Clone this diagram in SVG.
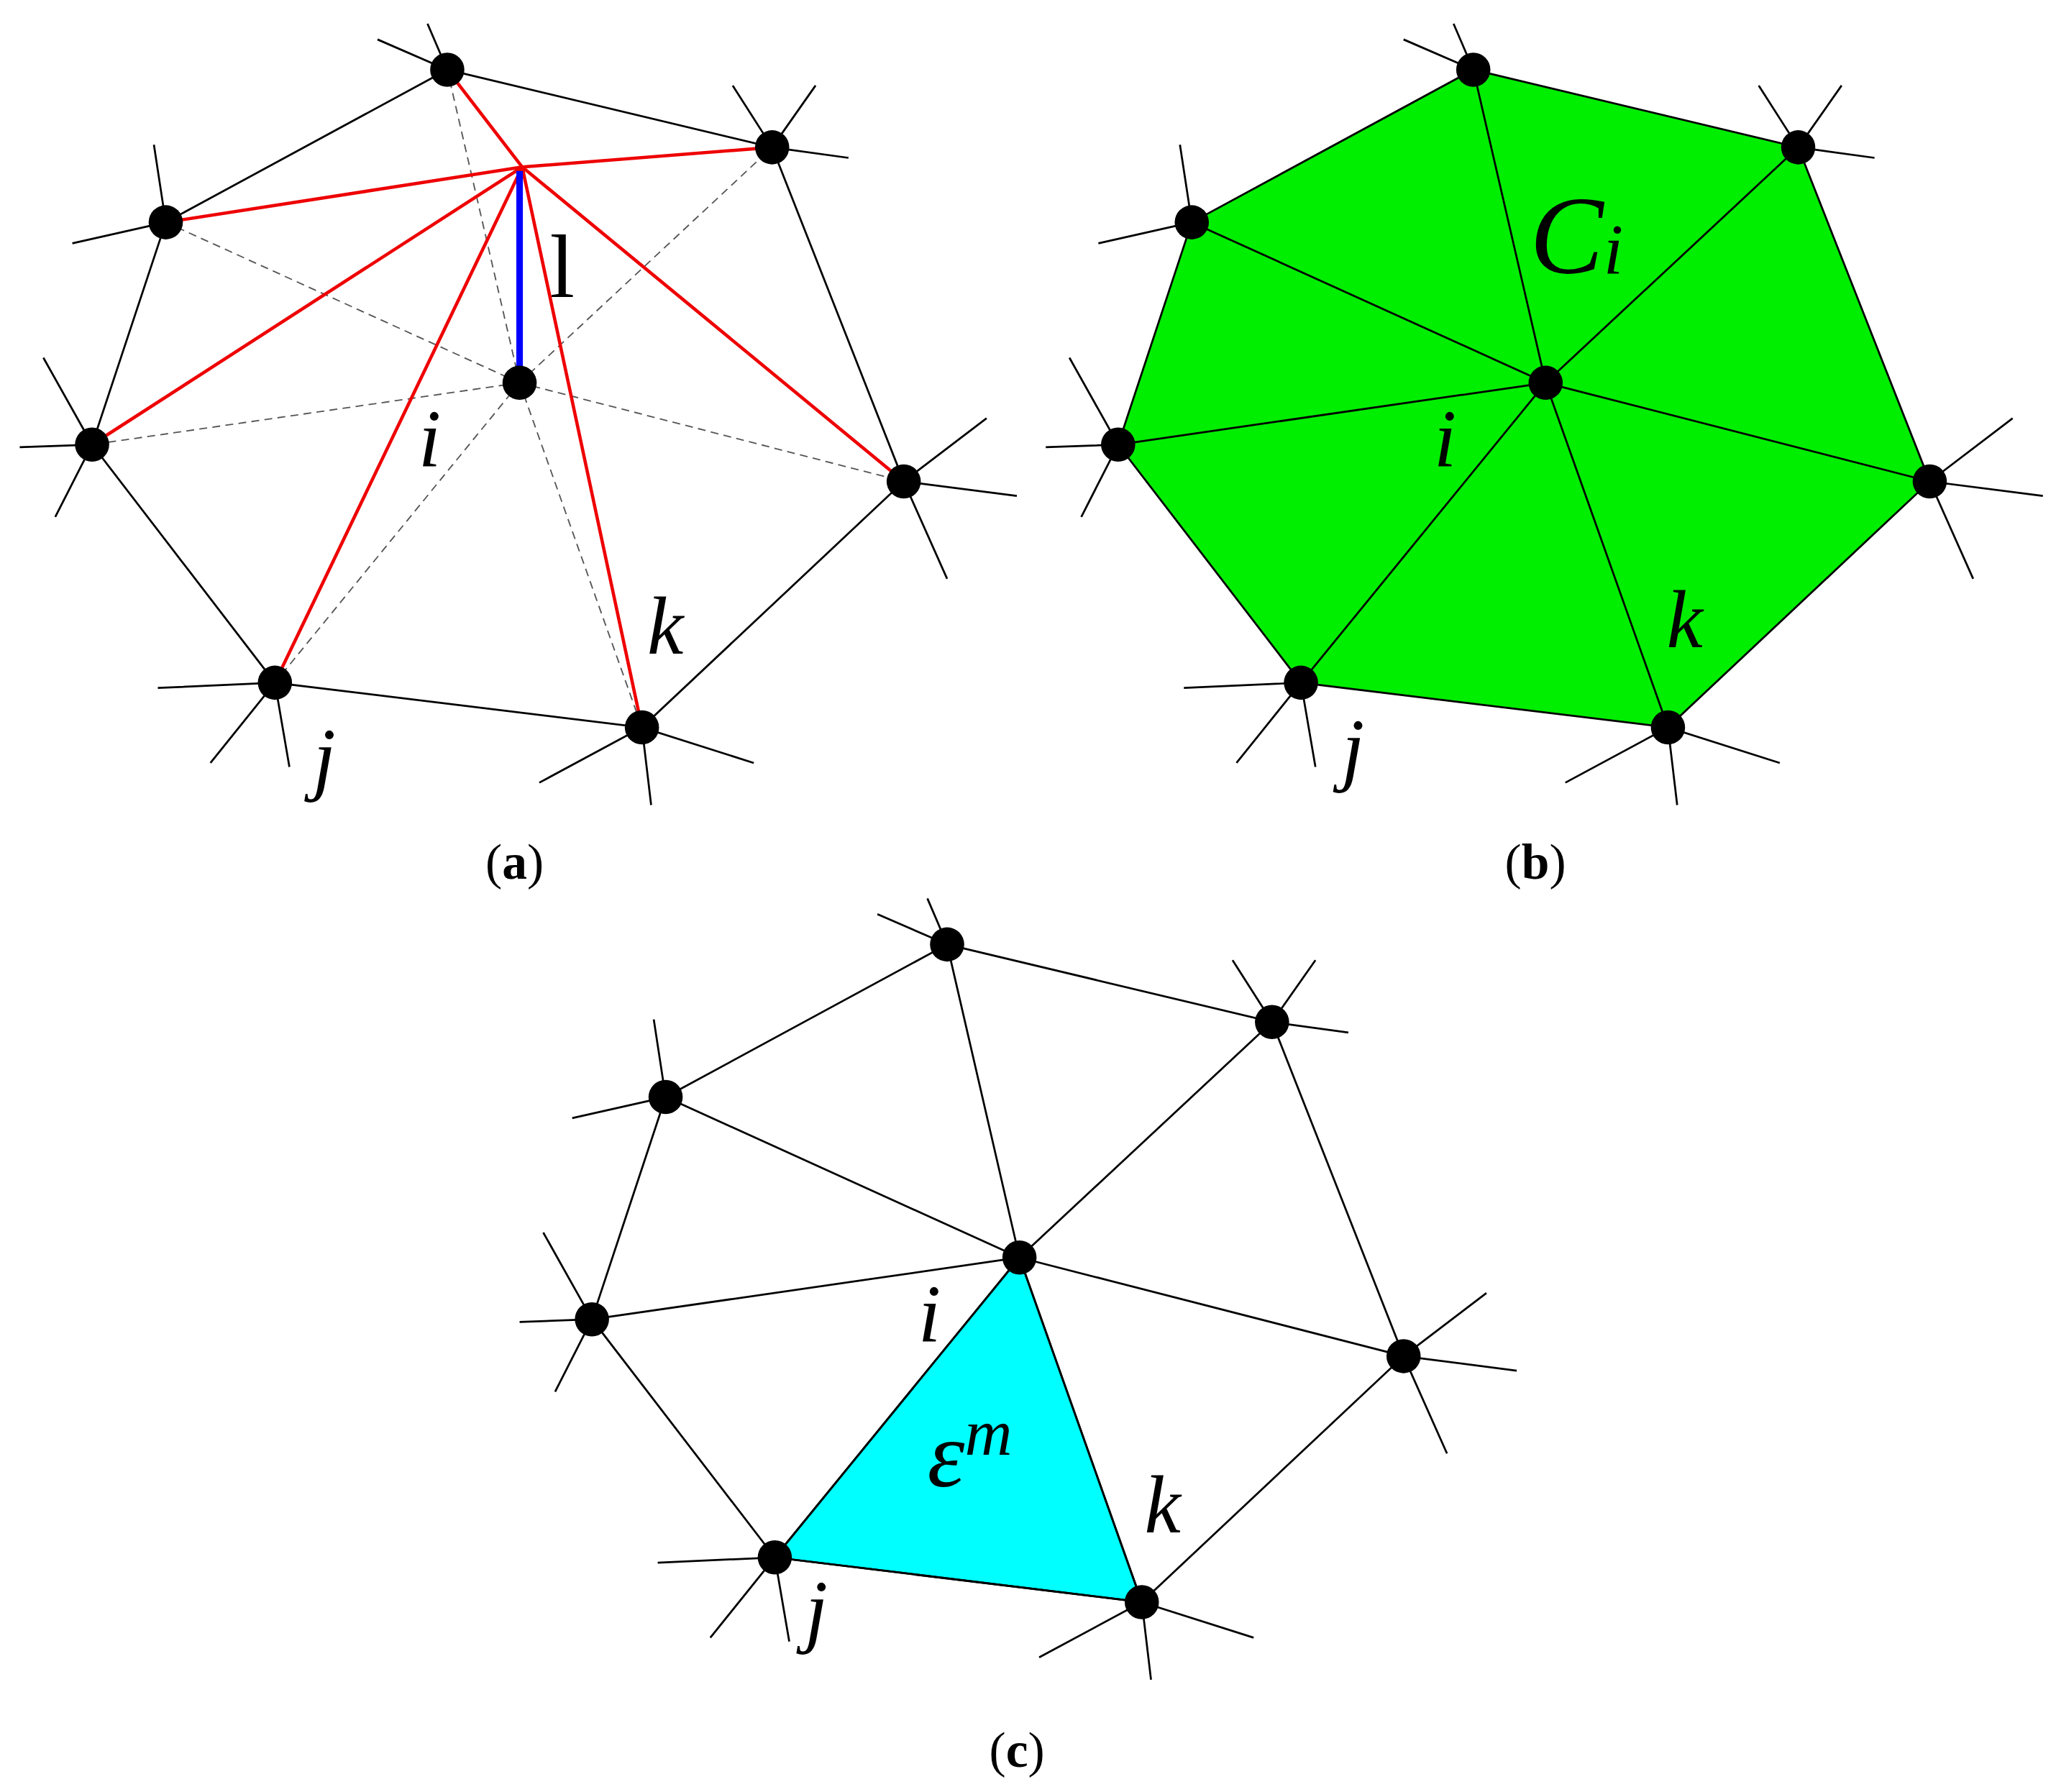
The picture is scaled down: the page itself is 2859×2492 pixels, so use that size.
<svg xmlns="http://www.w3.org/2000/svg" width="2859" height="2492" viewBox="0 0 2859 2492">
<style>
.e{stroke:#000;stroke-width:1.5;fill:none}
.d{stroke:#555;stroke-width:1;stroke-dasharray:6 4;fill:none}
.r{stroke:#e00;stroke-width:2.5;fill:none}
.n{fill:#000}
.lab{font-family:"Liberation Serif",serif;font-style:italic;font-size:62px}
.cap{font-family:"Liberation Serif",serif;font-size:38px}
</style>
<defs>
<g id="spokes" class="e">
<path d="M340 53L287 30M340 53L325 18M587 112L557 65M587 112L620 65M587 112L645 120M126 169L117 110M126 169L55 185M70 338L33 272M70 338L15 340M70 338L42 393M209 519L120 523M209 519L160 580M209 519L220 583M488 553L410 595M488 553L495 612M488 553L573 580M687 366L750 318M687 366L773 377M687 366L720 440"/>
</g>
<g id="outer"><path class="e" d="M340 53L587 112L687 366L488 553L209 519L70 338L126 169Z"/></g>
<g id="dots" class="n">
<circle cx="340" cy="53" r="13"/><circle cx="587" cy="112" r="13"/><circle cx="126" cy="169" r="13"/><circle cx="70" cy="338" r="13"/><circle cx="209" cy="519" r="13"/><circle cx="488" cy="553" r="13"/><circle cx="687" cy="366" r="13"/><circle cx="395" cy="291" r="13"/>
</g>
</defs>
<rect width="2859" height="2492" fill="#fff"/>
<g transform="scale(1.8292)">
<g id="panel-a">
<g id="connectors-a">
<use href="#outer"/><use href="#spokes"/>
<path class="d" d="M395 291L340 53M395 291L587 112M395 291L126 169M395 291L70 338M395 291L209 519M395 291L488 553M395 291L687 366"/>
<path class="r" d="M397 127L340 53M397 127L587 112M397 127L126 169M397 127L70 338M397 127L209 519M397 127L488 553M397 127L687 366"/>
<path d="M395 291L395 130" stroke="#00f" stroke-width="5"/>
</g>
<g id="nodes-a"><use href="#dots"/></g>
<text x="418" y="226" style="font-family:'Liberation Serif',serif;font-size:68px">l</text>
<text class="lab" x="318" y="355">i</text>
<text class="lab" x="492" y="497">k</text>
<text class="lab" x="238" y="597">j</text>
<text class="cap" x="369" y="668">(<tspan font-weight="bold">a</tspan>)</text>
</g>
<g id="panel-b" transform="translate(780,0)">
<path d="M340 53L587 112L687 366L488 553L209 519L70 338L126 169Z" fill="#00ee00" stroke="#000" stroke-width="1.5"/>
<g id="connectors-b">
<use href="#spokes"/>
<path class="e" d="M395 291L340 53M395 291L587 112M395 291L126 169M395 291L70 338M395 291L209 519M395 291L488 553M395 291L687 366"/>
</g>
<g id="nodes-b"><use href="#dots"/></g>
<text class="lab" x="383" y="208" style="font-size:84px">C<tspan style="font-size:54px">i</tspan></text>
<text class="lab" x="310" y="355">i</text>
<text class="lab" x="487" y="492">k</text>
<text class="lab" x="240" y="590">j</text>
<text class="cap" x="364" y="668">(<tspan font-weight="bold">b</tspan>)</text>
</g>
<g id="panel-c" transform="translate(380,665)">
<path d="M395 291L209 519L488 553Z" fill="#00ffff" stroke="#000" stroke-width="1.5"/>
<g id="connectors-c">
<use href="#outer"/><use href="#spokes"/>
<path class="e" d="M395 291L340 53M395 291L587 112M395 291L126 169M395 291L70 338M395 291L209 519M395 291L488 553M395 291L687 366"/>
</g>
<g id="nodes-c"><use href="#dots"/></g>
<text class="lab" x="318" y="355">i</text>
<text class="lab" x="325" y="465" style="font-size:72px">ε<tspan style="font-size:50px" dy="-24">m</tspan></text>
<text class="lab" x="490" y="500">k</text>
<text class="lab" x="232" y="580">j</text>
<text class="cap" x="372" y="678">(<tspan font-weight="bold">c</tspan>)</text>
</g>
</g>
</svg>
